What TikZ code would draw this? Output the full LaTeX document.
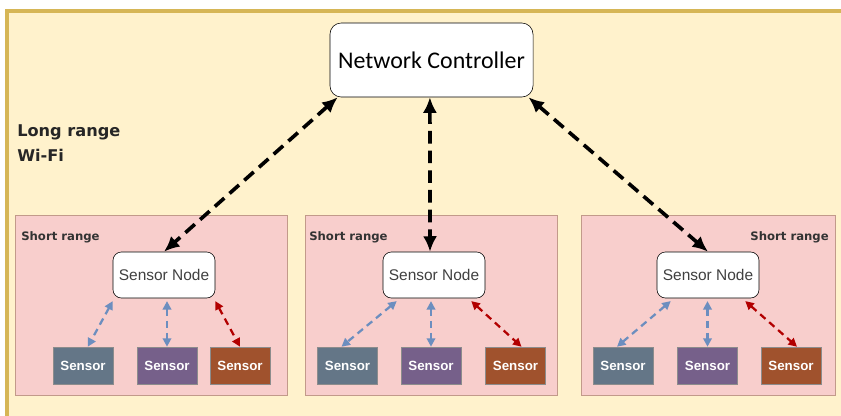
\documentclass[tikz,border=0pt]{standalone}
\usepackage{fontspec}
\usepackage{xcolor}
\usepackage{tikz}
\usetikzlibrary{arrows.meta,positioning}
\newfontfamily\ctrlfont{Carlito}
\newfontfamily\nodefont{Liberation Sans}
\newfontfamily\labelfont{DejaVu Sans}
\definecolor{bgyellow}{HTML}{FFF2CC}
\definecolor{bggold}{HTML}{D6B656}
\definecolor{zonefill}{HTML}{F8CECC}
\definecolor{zoneline}{HTML}{C29A8A}
\definecolor{slate}{HTML}{647687}
\definecolor{plum}{HTML}{76608A}
\definecolor{rust}{HTML}{A0522D}
\definecolor{linkblue}{HTML}{6C8EBF}
\definecolor{linkred}{HTML}{B20000}
\tikzset{
  controller/.style={draw, rectangle, rounded corners=8pt, fill=white, align=center,
    minimum width=5.075cm, minimum height=1.85cm, font=\ctrlfont\fontsize{17}{20}\selectfont},
  sensornode/.style={draw, rectangle, rounded corners=6pt, fill=white, align=center,
    minimum width=2.55cm, minimum height=1.15cm, font=\nodefont\fontsize{11}{13}\selectfont, text=black!75},
  sensorbox/.style={draw=black!45, rectangle, fill=#1, text=white, inner sep=1pt,
    minimum width=1.5cm, minimum height=0.925cm, font=\nodefont\bfseries\fontsize{9.5}{11}\selectfont},
  zone/.style={draw=zoneline, fill=zonefill, line width=0.6pt},
  zonelabel/.style={font=\labelfont\bfseries\fontsize{8.3}{10}\selectfont, text=black!80, inner sep=0pt},
  wifi/.style={{Latex[length=11pt,width=10pt]}-{Latex[length=11pt,width=10pt]}, line width=2.6pt,
    dash pattern=on 9pt off 5pt},
  shortlink/.style={{Triangle[length=6pt,width=6pt]}-{Triangle[length=6pt,width=6pt]}, line width=1.6pt,
    dash pattern=on 5pt off 3.5pt, draw=#1}
}
\begin{document}
\begin{tikzpicture}[x=0.025cm, y=-0.025cm]
\useasboundingbox (0,0) rectangle (841,415);

% Background area
\fill[bgyellow] (7,11) rectangle (850,425);
\draw[bggold, line width=2.2pt] (7,425) -- (7,11) -- (850,11);

% Short range zones
\draw[zone] (15,215) rectangle (287,395);
\draw[zone] (305,215) rectangle (557,395);
\draw[zone] (581,215) rectangle (835,395);
\node[zonelabel, anchor=west] (zl1) at (21,237) {Short range};
\node[zonelabel, anchor=west] (zl2) at (309,237) {Short range};
\node[zonelabel, anchor=east] (zl3) at (829,237) {Short range};

% Long range label
\node[anchor=west, align=left, inner sep=0pt, text=black!85,
  font=\labelfont\bfseries\fontsize{11.5}{18}\selectfont] (wifi) at (17,143) {Long range\\Wi-Fi};

% Controller and sensor nodes
\node[controller] (nc) at (431.5,60) {Network Controller};
\node[sensornode] (sn1) at (164,275) {Sensor Node};
\node[sensornode] (sn2) at (434,275) {Sensor Node};
\node[sensornode] (sn3) at (708,275) {Sensor Node};

% Sensors
\node[sensorbox=slate] (s11) at (83,365.5) {Sensor};
\node[sensorbox=plum] (s12) at (167,365.5) {Sensor};
\node[sensorbox=rust] (s13) at (240,365.5) {Sensor};
\node[sensorbox=slate] (s21) at (347.5,365.5) {Sensor};
\node[sensorbox=plum] (s22) at (431,365.5) {Sensor};
\node[sensorbox=rust] (s23) at (515.5,365.5) {Sensor};
\node[sensorbox=slate] (s31) at (623,365.5) {Sensor};
\node[sensorbox=plum] (s32) at (707.5,365.5) {Sensor};
\node[sensorbox=rust] (s33) at (791,365.5) {Sensor};

% Long range links
\draw[wifi] ([xshift=0.2cm]nc.south west) -- (sn1.north);
\draw[wifi] ([xshift=-0.04cm]nc.south) -- ([xshift=-0.1cm]sn2.north);
\draw[wifi] ([xshift=-0.12cm]nc.south east) -- (sn3.north);

% Short range links
\draw[shortlink=linkblue] ([yshift=-2pt]sn1.south west) -- ([xshift=0.12cm]s11.north);
\draw[shortlink=linkblue] ([yshift=-2pt]sn1.south -| s12.north) -- (s12.north);
\draw[shortlink=linkred] ([yshift=-2pt]sn1.south east) -- (s13.north);
\draw[shortlink=linkblue] ([xshift=0.35cm,yshift=-2pt]sn2.south west) -- ([xshift=-0.15cm]s21.north);
\draw[shortlink=linkblue] ([yshift=-2pt]sn2.south -| s22.north) -- (s22.north);
\draw[shortlink=linkred] ([xshift=-0.35cm,yshift=-2pt]sn2.south east) -- ([xshift=0.15cm]s23.north);
\draw[shortlink=linkblue] ([xshift=0.35cm,yshift=-2pt]sn3.south west) -- ([xshift=-0.15cm]s31.north);
\draw[shortlink=linkblue] ([yshift=-2pt]sn3.south -| s32.north) -- (s32.north);
\draw[shortlink=linkred] ([xshift=-0.35cm,yshift=-2pt]sn3.south east) -- ([xshift=0.15cm]s33.north);

\end{tikzpicture}
\end{document}
